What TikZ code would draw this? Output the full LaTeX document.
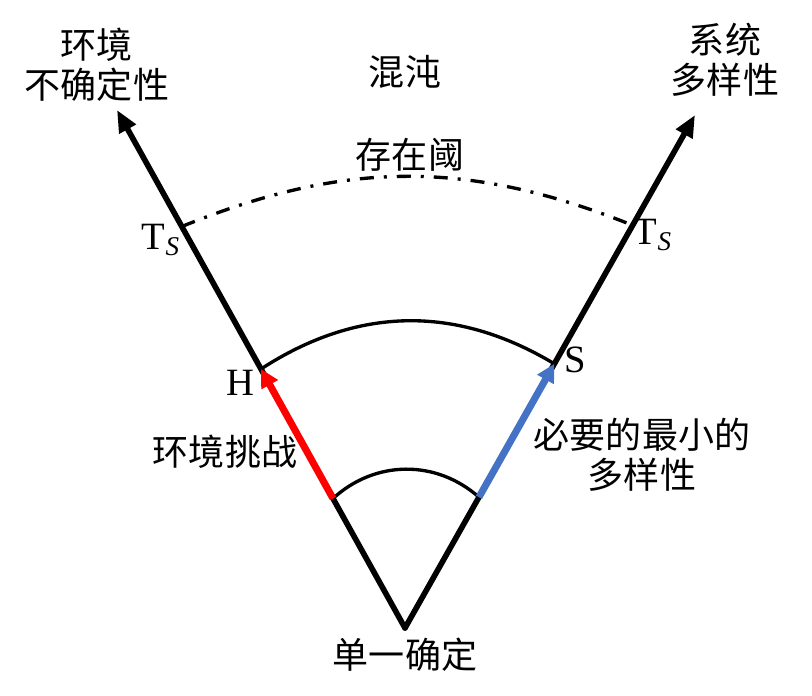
\documentclass[tikz,border=0pt]{standalone}
\usepackage{fontspec}
\setmainfont{Liberation Serif}
\newfontfamily\cjk{Noto Sans CJK SC}
\usepackage{tikz}
\usetikzlibrary{calc,arrows.meta}
\definecolor{needblue}{HTML}{4472C4}

\begin{document}
\begin{tikzpicture}[x=0.02cm, y=0.02cm,
  axisline/.style={line width=3.2pt, -{Triangle[length=0.44cm,width=0.36cm]}},
  front/.style={line width=1.9pt},
  growarrow/.style={line width=4pt, -{Triangle[length=0.36cm,width=0.36cm]}},
  zh/.style={font=\cjk\fontsize{20.5}{23}\selectfont, align=center},
  lat/.style={font=\fontsize{22}{24}\selectfont}]
  \useasboundingbox (0,0) rectangle (812,696);

  % ---------- axes ----------
  \coordinate (O) at (405,68);
  \coordinate (Lend) at (117,586);
  \coordinate (Rend) at (695,581);
  \draw[axisline, line cap=round] (O) -- (Lend);
  \draw[axisline, line cap=round] (O) -- (Rend);

  % points on the axes
  \coordinate (A1) at ($(O)!0.25!(Lend)$);
  \coordinate (H)  at ($(O)!0.5!(Lend)$);
  \coordinate (T1) at ($(O)!0.775!(Lend)$);
  \coordinate (B1) at ($(O)!0.255!(Rend)$);
  \coordinate (S)  at ($(O)!0.515!(Rend)$);
  \coordinate (T2) at ($(O)!0.785!(Rend)$);

  % ---------- fronts ----------
  \draw[front] (A1) to[bend left=42] (B1);
  \draw[front] (H) to[bend left=32] (S);
  \draw[front, dash pattern=on 0.28cm off 0.2cm on 0.06cm off 0.2cm] (T1) to[bend left=22] (T2);

  % ---------- challenge / variety ----------
  \draw[growarrow, red] (A1) -- (H);
  \draw[growarrow, needblue] (B1) -- (S);

  % ---------- labels ----------
  \node[zh] (envunc) at (97,631) {环境\\不确定性};
  \node[zh] (sysvar) at (725,636) {系统\\多样性};
  \node[zh] (chaos) at (405,624) {混沌};
  \node[zh] (thresh) at (410,541) {存在阈};
  \node[lat] (ts1) at (161,456) {T\textsubscript{\textit{S}}};
  \node[lat] (ts2) at (653,461) {T\textsubscript{\textit{S}}};
  \node[lat] (hlab) at (240,313) {H};
  \node[lat] (slab) at (575,336) {S};
  \node[zh] (chall) at (225,244) {环境挑战};
  \node[zh] (minvar) at (642,241) {必要的最小的\\多样性};
  \node[zh] (single) at (405,41) {单一确定};

\end{tikzpicture}
\end{document}
